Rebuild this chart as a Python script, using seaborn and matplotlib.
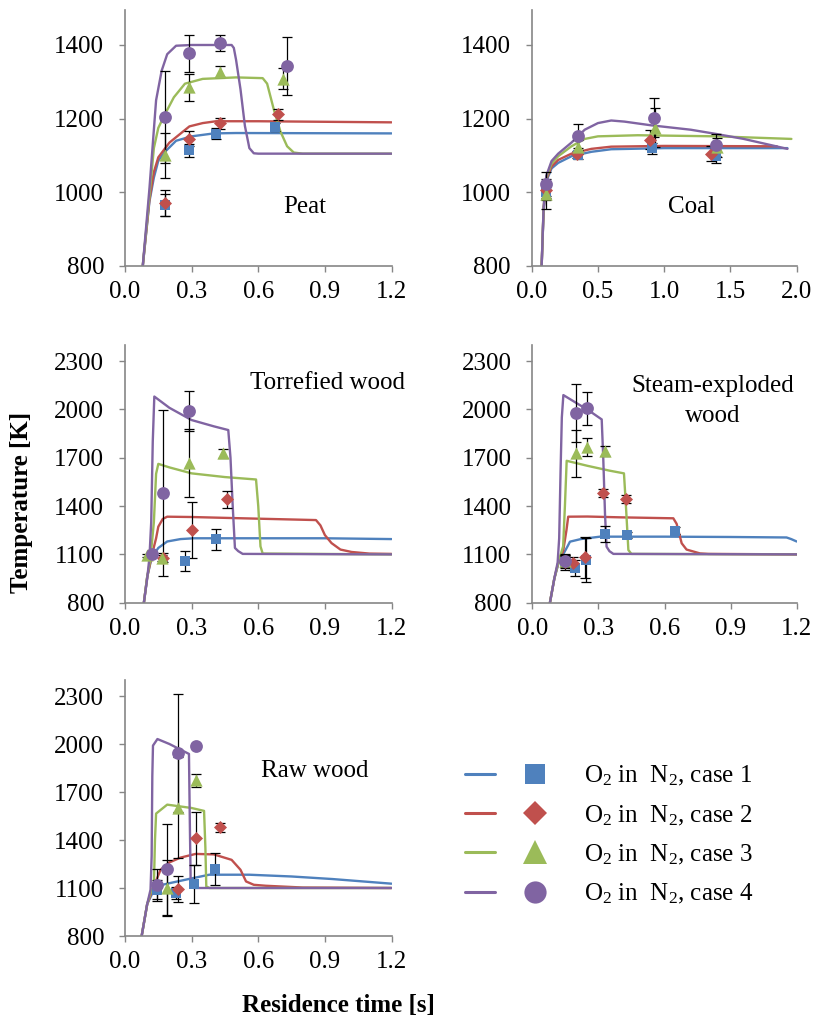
import matplotlib
matplotlib.use("Agg")
import matplotlib.pyplot as plt
import seaborn as sns
import pandas as pd
from matplotlib.lines import Line2D
from matplotlib.legend_handler import HandlerTuple

# ---------------- data ----------------
cases = [1, 2, 3, 4]
case_labels = ["O$_2$ in  N$_2$, case 1", "O$_2$ in  N$_2$, case 2",
               "O$_2$ in  N$_2$, case 3", "O$_2$ in  N$_2$, case 4"]
colors = ["#4F81BD", "#C0504D", "#9BBB59", "#8064A2"]
markers = ["s", "D", "^", "o"]

# model curves: case -> (time [s], temperature [K])
peat_curves = {
    1: ([0.08, 0.11, 0.13, 0.15, 0.18, 0.23, 0.30, 0.40, 0.50, 1.20],
        [800, 975, 1040, 1086, 1110, 1140, 1152, 1160, 1161, 1160]),
    2: ([0.08, 0.11, 0.13, 0.15, 0.20, 0.29, 0.35, 0.41, 0.60, 1.20],
        [800, 980, 1055, 1095, 1135, 1179, 1188, 1193, 1193, 1190]),
    3: ([0.08, 0.11, 0.13, 0.15, 0.18, 0.22, 0.27, 0.35, 0.50, 0.62, 0.64, 0.67, 0.70, 0.73, 0.76, 0.80, 1.20],
        [800, 990, 1120, 1175, 1212, 1258, 1295, 1308, 1312, 1310, 1295, 1225, 1165, 1125, 1108, 1105, 1105]),
    4: ([0.08, 0.11, 0.14, 0.165, 0.19, 0.23, 0.30, 0.45, 0.48, 0.49, 0.50, 0.52, 0.54, 0.56, 0.58, 0.60, 1.20],
        [800, 1010, 1250, 1330, 1375, 1398, 1400, 1400, 1400, 1392, 1360, 1280, 1180, 1120, 1106, 1105, 1105]),
}
coal_curves = {
    1: ([0.075, 0.09, 0.11, 0.15, 0.20, 0.30, 0.45, 0.60, 1.00, 1.93],
        [800, 950, 1030, 1065, 1080, 1098, 1110, 1117, 1120, 1120]),
    2: ([0.075, 0.09, 0.11, 0.15, 0.20, 0.30, 0.45, 0.60, 1.00, 1.85],
        [800, 955, 1035, 1070, 1088, 1105, 1118, 1124, 1126, 1125]),
    3: ([0.075, 0.09, 0.11, 0.15, 0.20, 0.30, 0.40, 0.50, 0.80, 1.40, 1.96],
        [800, 960, 1040, 1078, 1098, 1125, 1145, 1152, 1155, 1152, 1145]),
    4: ([0.075, 0.09, 0.11, 0.15, 0.20, 0.30, 0.40, 0.50, 0.60, 0.70, 0.90, 1.20, 1.40, 1.60, 1.93],
        [800, 960, 1045, 1085, 1105, 1135, 1170, 1188, 1195, 1192, 1182, 1170, 1158, 1145, 1118]),
}
torr_curves = {
    1: ([0.085, 0.10, 0.12, 0.15, 0.19, 0.25, 0.31, 0.60, 0.90, 1.20],
        [800, 960, 1080, 1140, 1180, 1195, 1200, 1200, 1200, 1195]),
    2: ([0.085, 0.10, 0.12, 0.14, 0.15, 0.17, 0.19, 0.30, 0.50, 0.86, 0.88, 0.90, 0.93, 0.97, 1.02, 1.10, 1.20],
        [800, 960, 1090, 1200, 1272, 1320, 1334, 1332, 1325, 1313, 1280, 1220, 1170, 1130, 1115, 1105, 1103]),
    3: ([0.085, 0.10, 0.115, 0.13, 0.14, 0.15, 0.20, 0.30, 0.45, 0.59, 0.60, 0.61, 0.62, 1.20],
        [800, 960, 1080, 1300, 1600, 1662, 1640, 1603, 1580, 1565, 1400, 1150, 1105, 1100]),
    4: ([0.085, 0.10, 0.11, 0.118, 0.125, 0.132, 0.20, 0.30, 0.40, 0.465, 0.475, 0.485, 0.495, 0.51, 0.53, 1.20],
        [800, 950, 1080, 1300, 1800, 2080, 2010, 1934, 1895, 1872, 1700, 1400, 1140, 1120, 1103, 1100]),
}
steam_curves = {
    1: ([0.08, 0.10, 0.12, 0.14, 0.16, 0.171, 0.22, 0.307, 0.60, 0.90, 1.154, 1.175, 1.20],
        [800, 950, 1050, 1100, 1150, 1179, 1195, 1210, 1210, 1208, 1205, 1195, 1180]),
    2: ([0.08, 0.10, 0.12, 0.14, 0.155, 0.163, 0.25, 0.40, 0.64, 0.655, 0.678, 0.70, 0.761, 0.80, 1.20],
        [800, 950, 1060, 1120, 1250, 1334, 1335, 1330, 1324, 1290, 1169, 1130, 1106, 1103, 1100]),
    3: ([0.08, 0.10, 0.12, 0.14, 0.148, 0.156, 0.25, 0.35, 0.416, 0.425, 0.436, 0.45, 1.20],
        [800, 950, 1060, 1150, 1400, 1681, 1650, 1620, 1603, 1400, 1127, 1103, 1100]),
    4: ([0.08, 0.10, 0.115, 0.122, 0.128, 0.134, 0.141, 0.20, 0.26, 0.315, 0.322, 0.33, 0.337, 0.35, 0.368, 1.20],
        [800, 950, 1050, 1200, 1600, 1950, 2089, 2040, 1990, 1938, 1700, 1350, 1148, 1120, 1103, 1100]),
}
raw_curves = {
    1: ([0.075, 0.10, 0.138, 0.20, 0.30, 0.379, 0.56, 0.75, 0.934, 1.20],
        [800, 1000, 1110, 1130, 1160, 1183, 1183, 1172, 1156, 1127]),
    2: ([0.075, 0.10, 0.13, 0.16, 0.20, 0.25, 0.318, 0.40, 0.48, 0.52, 0.545, 0.58, 0.634, 0.80, 1.20],
        [800, 1000, 1110, 1214, 1260, 1290, 1313, 1310, 1276, 1214, 1141, 1120, 1114, 1103, 1100]),
    3: ([0.075, 0.10, 0.12, 0.13, 0.135, 0.14, 0.19, 0.30, 0.356, 0.362, 0.366, 0.38, 1.20],
        [800, 1000, 1090, 1110, 1400, 1565, 1621, 1600, 1582, 1350, 1110, 1100, 1100]),
    4: ([0.075, 0.10, 0.115, 0.12, 0.123, 0.126, 0.146, 0.20, 0.288, 0.292, 0.296, 0.31, 1.20],
        [800, 1000, 1090, 1300, 1800, 1990, 2031, 2000, 1938, 1500, 1110, 1100, 1100]),
}

# measurements: case -> (time [s], temperature [K], error [K])
peat_points = {
    1: ([0.18, 0.29, 0.41, 0.675], [965, 1114, 1159, 1177], [30, 18, 15, 10]),
    2: ([0.18, 0.29, 0.43, 0.69], [972, 1146, 1188, 1212], [35, 20, 15, 15]),
    3: ([0.18, 0.29, 0.43, 0.71], [1100, 1285, 1327, 1309], [60, 37, 15, 28]),
    4: ([0.18, 0.29, 0.43, 0.73], [1204, 1377, 1405, 1343], [125, 50, 22, 80]),
}
coal_points = {
    1: ([0.11, 0.35, 0.91, 1.39], [1000, 1102, 1120, 1098], [20, 12, 15, 18]),
    2: ([0.11, 0.34, 0.89, 1.35], [1005, 1103, 1143, 1105], [20, 10, 25, 20]),
    3: ([0.11, 0.35, 0.93, 1.40], [995, 1123, 1176, 1122], [40, 20, 52, 25]),
    4: ([0.11, 0.35, 0.92, 1.39], [1023, 1152, 1203, 1129], [32, 33, 52, 30]),
}
torr_points = {
    1: ([0.27, 0.41], [1061, 1193], [62, 67]),
    2: ([0.17, 0.30, 0.46], [1080, 1251, 1441], [30, 175, 55]),
    3: ([0.10, 0.165, 0.29, 0.44], [1095, 1077, 1669, 1727], [10, 20, 210, 30]),
    4: ([0.12, 0.17, 0.29], [1100, 1479, 1992], [15, 515, 125]),
}
steam_points = {
    1: ([0.15, 0.194, 0.244, 0.33, 0.43, 0.648], [1055, 1013, 1065, 1226, 1220, 1247], [40, 50, 135, 50, 20, 20]),
    2: ([0.15, 0.186, 0.239, 0.319, 0.424], [1050, 1044, 1081, 1479, 1441], [45, 40, 130, 25, 25]),
    3: ([0.15, 0.198, 0.25, 0.33], [1060, 1727, 1768, 1741], [30, 145, 57, 30]),
    4: ([0.148, 0.198, 0.25], [1061, 1979, 2006], [40, 180, 100]),
}
raw_points = {
    1: ([0.146, 0.231, 0.311, 0.405], [1090, 1069, 1125, 1220], [60, 40, 118, 100]),
    2: ([0.24, 0.321, 0.4265], [1094, 1410, 1479], [80, 166, 30]),
    3: ([0.19, 0.24, 0.321], [1100, 1601, 1772], [176, 315, 42]),
    4: ([0.146, 0.19, 0.239, 0.318], [1121, 1218, 1942, 1988], [100, 285, 368, 15]),
}

fuel_names = ["Peat", "Coal", "Torrefied wood", "Steam-exploded\nwood", "Raw wood"]
x_ticks_short = [0.0, 0.3, 0.6, 0.9, 1.2]
x_ticks_coal = [0.0, 0.5, 1.0, 1.5, 2.0]
y_ticks_top = [800, 1000, 1200, 1400]
y_ticks_wood = [800, 1100, 1400, 1700, 2000, 2300]

# ---------------- style ----------------
sns.set_theme(style="ticks")
plt.rcParams["font.family"] = ["Liberation Serif", "DejaVu Serif"]
plt.rcParams["mathtext.default"] = "regular"
plt.rcParams["text.color"] = "black"

FS = 18
GRAY = "#868686"
W, H = 817, 1021
fig = plt.figure(figsize=(W / 100, H / 100), dpi=100)


def px_axes(left, top, right, bottom):
    return fig.add_axes([left / W, 1 - bottom / H, (right - left) / W, (bottom - top) / H])


marker_sizes = {"s": 50, "D": 44, "^": 78, "o": 85}


def draw_panel(ax, curves, points, xlim, xticks, ylim, yticks, label, lx, ly):
    rows = []
    for c in cases:
        t, T = curves[c]
        rows += [{"t": a, "T": b, "case": c} for a, b in zip(t, T)]
    df = pd.DataFrame(rows)
    sns.lineplot(data=df, x="t", y="T", hue="case", palette=colors, estimator=None,
                 sort=False, linewidth=1.7, legend=False, ax=ax, zorder=2)
    for c, col, mk in zip(cases, colors, markers):
        t, T, e = points[c]
        ax.errorbar(t, T, yerr=e, fmt="none", ecolor="black", elinewidth=0.9,
                    capsize=3.5, capthick=0.9, zorder=3)
        pdf = pd.DataFrame({"t": t, "T": T})
        sns.scatterplot(data=pdf, x="t", y="T", color=col, marker=mk,
                        s=marker_sizes[mk], linewidth=0, ax=ax, zorder=4, legend=False)
    ax.set_xlim(*xlim)
    ax.set_ylim(*ylim)
    ax.set_xticks(xticks)
    ax.set_xticklabels([f"{v:.1f}" for v in xticks])
    ax.set_yticks(yticks)
    ax.set_xlabel("")
    ax.set_ylabel("")
    for s in ["top", "right"]:
        ax.spines[s].set_visible(False)
    for s in ["left", "bottom"]:
        ax.spines[s].set_color(GRAY)
        ax.spines[s].set_linewidth(1.2)
    ax.tick_params(direction="out", length=4, width=1, color=GRAY,
                   labelsize=FS, labelcolor="black")
    ax.tick_params(axis="y", pad=11)
    ax.tick_params(axis="x", pad=7)
    ax.text(lx, ly, label, ha="center", va="center", fontsize=FS, linespacing=1.45)


ax1 = px_axes(125, 10, 391.5, 266)
draw_panel(ax1, peat_curves, peat_points, (0, 1.2), x_ticks_short, (800, 1495), y_ticks_top,
           fuel_names[0], 0.81, 960)
ax2 = px_axes(531.7, 10, 796.7, 266)
draw_panel(ax2, coal_curves, coal_points, (0, 2.0), x_ticks_coal, (800, 1495), y_ticks_top,
           fuel_names[1], 1.21, 960)
ax3 = px_axes(125, 345, 391.5, 602.7)
draw_panel(ax3, torr_curves, torr_points, (0, 1.2), x_ticks_short, (800, 2400), y_ticks_wood,
           fuel_names[2], 0.91, 2163)
ax4 = px_axes(532.3, 345, 796.7, 602.7)
draw_panel(ax4, steam_curves, steam_points, (0, 1.2), x_ticks_short, (800, 2400), y_ticks_wood,
           fuel_names[3], 0.82, 2052)
ax5 = px_axes(125, 680, 391.5, 936)
draw_panel(ax5, raw_curves, raw_points, (0, 1.2), x_ticks_short, (800, 2400), y_ticks_wood,
           fuel_names[4], 0.855, 1834)

fig.text(22 / W, 1 - 502 / H, "Temperature [K]", rotation=90, ha="center", va="center",
         fontsize=FS, fontweight="bold")
fig.text(338 / W, 1 - 1005 / H, "Residence time [s]", ha="center", va="center",
         fontsize=FS, fontweight="bold")

# legend
leg_ms = {"s": 14, "D": 12.5, "^": 17, "o": 16}
handles = []
for col, mk in zip(colors, markers):
    ln = Line2D([], [], color=col, linewidth=2.2)
    mh = Line2D([], [], color=col, marker=mk, linestyle="none", markersize=leg_ms[mk],
                markeredgewidth=0)
    handles.append((ln, mh))
fig.legend(handles, case_labels, handler_map={tuple: HandlerTuple(ndivide=None, pad=1.0)},
           loc="center left", bbox_to_anchor=(465 / W, 1 - 835 / H), frameon=False,
           fontsize=FS, handlelength=3.4, handletextpad=1.35, labelspacing=0.6,
           borderpad=0, borderaxespad=0)

fig.savefig("out.png", dpi=100)
